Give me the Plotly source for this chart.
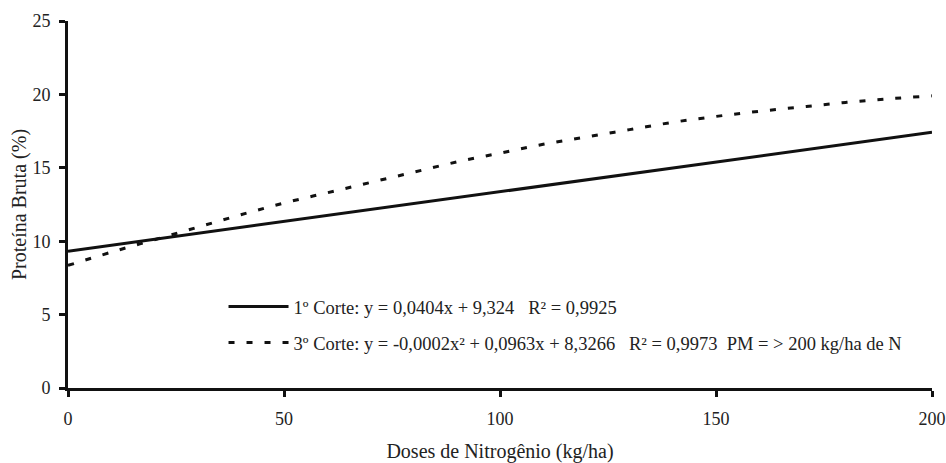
import plotly.graph_objects as go

# Data
doses_1 = [0, 50, 100, 150, 200]
pb_1 = [9.32, 11.35, 13.40, 15.40, 17.42]

doses_3 = [0, 10, 20, 30, 40, 50, 60, 70, 80, 90, 100,
           110, 120, 130, 140, 150, 160, 170, 180, 190, 200]
pb_3 = [8.35, 9.25, 10.1, 10.95, 11.8, 12.6, 13.3, 14.0, 14.7, 15.4, 16.0,
        16.6, 17.1, 17.6, 18.1, 18.5, 18.85, 19.15, 19.45, 19.7, 19.9]

x_ticks = [0, 50, 100, 150, 200]
y_ticks = [0, 5, 10, 15, 20, 25]

name_1 = "1º Corte: y = 0,0404x + 9,324   R² = 0,9925"
name_3 = "3º Corte: y = -0,0002x² + 0,0963x + 8,3266   R² = 0,9973  PM = > 200 kg/ha de N"
x_title = "Doses de Nitrogênio (kg/ha)"
y_title = "Proteína Bruta (%)"

FONT = "Liberation Serif, Times New Roman, serif"
TXT = "#222222"

fig = go.Figure()
fig.add_trace(go.Scatter(x=doses_1, y=pb_1, mode="lines", name=name_1,
                         legendgroup="a",
                         line=dict(color="#111111", width=3)))
fig.add_trace(go.Scatter(x=doses_3, y=pb_3, mode="lines", name=name_3,
                         legendgroup="b", line_shape="spline",
                         line=dict(color="#111111", width=3, dash="6px,12px")))

axis_common = dict(showgrid=False, zeroline=False, automargin=False,
                   showline=True, linecolor="#111111", linewidth=3,
                   ticks="outside", ticklen=6, tickwidth=3, tickcolor="#111111",
                   tickfont=dict(family=FONT, size=18, color=TXT),
                   fixedrange=True)

fig.update_layout(
    width=946, height=463,
    margin=dict(l=68, r=14, t=21, b=75),
    paper_bgcolor="white", plot_bgcolor="white",
    font=dict(family=FONT, size=18, color=TXT),
    showlegend=True,
    legend=dict(x=0.18, y=0.172, xanchor="left", yanchor="middle",
                bgcolor="rgba(0,0,0,0)", itemwidth=60,
                traceorder="grouped", tracegroupgap=9,
                font=dict(family=FONT, size=18.5, color=TXT)),
    xaxis=dict(range=[0, 200], tickvals=x_ticks, ticklabelstandoff=6,
               title=dict(text=x_title, standoff=17,
                          font=dict(family=FONT, size=20, color=TXT)),
               **axis_common),
    yaxis=dict(range=[0, 25], tickvals=y_ticks, ticklabelstandoff=5,
               title=dict(text=y_title, standoff=1,
                          font=dict(family=FONT, size=20, color=TXT)),
               **axis_common),
)

fig.write_html("out.html",
               config={"displayModeBar": False},
               post_script="document.body.style.margin='0';"
                           "document.body.style.overflow='hidden';")
